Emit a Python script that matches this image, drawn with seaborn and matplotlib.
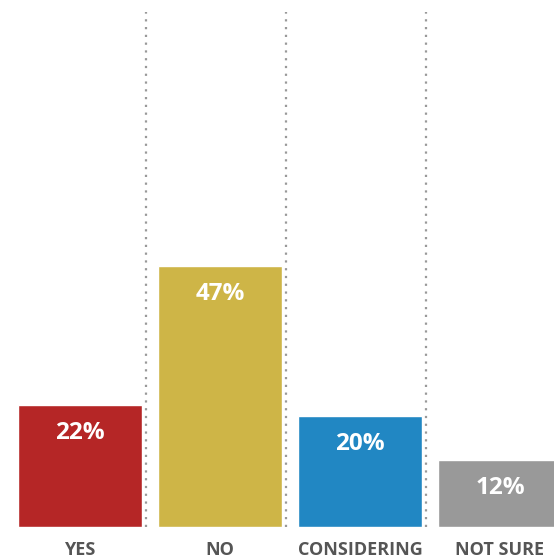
import matplotlib
matplotlib.use("Agg")
import matplotlib.pyplot as plt
import seaborn as sns
import pandas as pd

categories = ["YES", "NO", "CONSIDERING", "NOT SURE"]
values = [22, 47, 20, 12]
labels = ["22%", "47%", "20%", "12%"]
colors = ["#B52626", "#CEB547", "#2187C3", "#999999"]

df = pd.DataFrame({"answer": categories, "pct": values})

sns.set_theme(style="white")
plt.rcParams["font.family"] = ["Open Sans", "DejaVu Sans"]

fig = plt.figure(figsize=(5.54, 5.60), dpi=100)
ax = fig.add_axes([10 / 554, 33 / 560, 560 / 554, 515 / 560])

sns.barplot(data=df, x="answer", y="pct", hue="answer", palette=colors,
            width=0.89, saturation=1, legend=False, ax=ax)

ax.set_xlim(-0.5, 3.5)
ax.set_ylim(0, 92.8)

# dotted separators between the bars
for i in range(len(categories) - 1):
    ax.axvline(i + 0.47, color="#999999", linestyle=(0, (1, 2.5)),
               linewidth=1.6, zorder=0)

for i, (v, lab) in enumerate(zip(values, labels)):
    ax.annotate(lab, (i, v), xytext=(0, -28), textcoords="offset pixels",
                ha="center", va="center", color="white", fontsize=17.5,
                fontweight="bold")

ax.set_xlabel("")
ax.set_ylabel("")
ax.set_yticks([])
ax.tick_params(axis="x", length=0, pad=10, labelsize=13, labelcolor="#555555")
for t in ax.get_xticklabels():
    t.set_fontweight("bold")
sns.despine(ax=ax, left=True, bottom=True, top=True, right=True)

fig.savefig("out.png", dpi=100)
